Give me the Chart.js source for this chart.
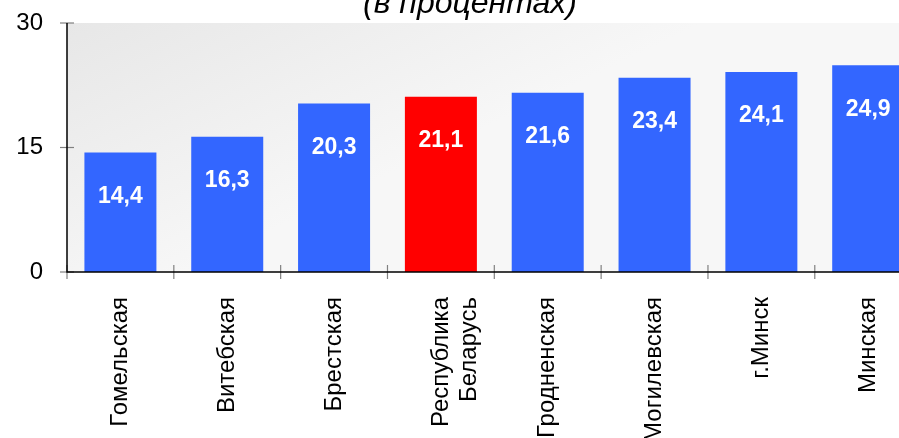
<!DOCTYPE html>
<html>
<head>
<meta charset="utf-8">
<script src="https://cdn.jsdelivr.net/npm/chart.js@4/dist/chart.umd.min.js"></script>
<style>
  html, body { margin: 0; padding: 0; background: #ffffff; overflow: hidden; }
  #wrap { position: relative; width: 922px; height: 438px; }
</style>
</head>
<body>
<div id="wrap"><canvas id="c"></canvas></div>
<script>
const categories = [
  'Гомельская', 'Витебская', 'Брестская', ['Республика', 'Беларусь'],
  'Гродненская', 'Могилевская', 'г.Минск', 'Минская'
];
const values = [14.4, 16.3, 20.3, 21.1, 21.6, 23.4, 24.1, 24.9];
const valueLabels = ['14,4', '16,3', '20,3', '21,1', '21,6', '23,4', '24,1', '24,9'];
const highlightIndex = 3;
const yTicks = [0, 15, 30];
const titleText = '(в процентах)';

const FONT = '"Liberation Sans", Arial, sans-serif';

const decorPlugin = {
  id: 'decor',
  beforeDatasetsDraw(chart) {
    const { ctx, chartArea: a } = chart;
    ctx.save();
    const g = ctx.createLinearGradient(a.left, a.top, a.left + 120, a.bottom);
    g.addColorStop(0, '#e7e7e7');
    g.addColorStop(1, '#f7f7f7');
    ctx.fillStyle = g;
    ctx.fillRect(a.left, a.top, a.right - a.left, a.bottom - a.top);
    ctx.restore();
  },
  afterDatasetsDraw(chart) {
    const { ctx, chartArea: a, scales } = chart;
    const xs = scales.x, ys = scales.y;
    ctx.save();
    // value labels
    const meta = chart.getDatasetMeta(0);
    ctx.fillStyle = '#ffffff';
    ctx.font = 'bold 23px ' + FONT;
    ctx.textAlign = 'center';
    ctx.textBaseline = 'middle';
    meta.data.forEach((bar, i) => {
      ctx.fillText(valueLabels[i], bar.x, bar.y + 44);
    });
    // tick marks (gray, crossing axes)
    ctx.strokeStyle = '#808080';
    ctx.lineWidth = 1.2;
    yTicks.forEach(v => {
      const y = ys.getPixelForValue(v);
      ctx.beginPath();
      ctx.moveTo(a.left - 7, y);
      ctx.lineTo(a.left + 7, y);
      ctx.stroke();
    });
    const n = categories.length;
    const step = (xs.getPixelForValue(1) - xs.getPixelForValue(0));
    for (let i = 0; i <= n; i++) {
      const x = xs.getPixelForValue(0) - step / 2 + i * step;
      ctx.beginPath();
      ctx.moveTo(x, a.bottom - 7);
      ctx.lineTo(x, a.bottom + 7);
      ctx.stroke();
    }
    // axis lines
    ctx.strokeStyle = '#000000';
    ctx.lineWidth = 1.5;
    ctx.beginPath();
    ctx.moveTo(a.left, a.top);
    ctx.lineTo(a.left, a.bottom);
    ctx.lineTo(a.right + 5, a.bottom);
    ctx.stroke();
    // title (partially cut off at the top)
    ctx.fillStyle = '#000000';
    ctx.font = 'italic 32px ' + FONT;
    ctx.textAlign = 'center';
    ctx.textBaseline = 'alphabetic';
    ctx.fillText(titleText, 470, 13);
    ctx.restore();
  }
};

new Chart(document.getElementById('c'), {
  type: 'bar',
  data: {
    labels: categories,
    datasets: [{
      data: values,
      backgroundColor: values.map((v, i) => i === highlightIndex ? '#ff0000' : '#3366ff'),
      borderWidth: 0,
      barPercentage: 0.674,
      categoryPercentage: 1.0
    }]
  },
  options: {
    responsive: true,
    maintainAspectRatio: false,
    animation: false,
    layout: { padding: { top: 23, left: 0, right: 0, bottom: 0 } },
    plugins: { legend: { display: false }, tooltip: { enabled: false }, title: { display: false } },
    scales: {
      x: {
        offset: true,
        grid: { display: false, drawTicks: false },
        border: { display: false },
        ticks: {
          color: '#000000',
          font: { family: FONT, size: 24 },
          minRotation: 90,
          maxRotation: 90,
          autoSkip: false,
          padding: 25
        },
        afterFit(s) { s.height = 166; }
      },
      y: {
        min: 0,
        max: 30,
        afterBuildTicks(s) { s.ticks = yTicks.map(v => ({ value: v })); },
        grid: { display: false, drawTicks: false },
        border: { display: false },
        ticks: {
          color: '#000000',
          font: { family: FONT, size: 24 },
          padding: 24
        },
        afterFit(s) { s.width = 67; s.paddingTop = 0; s.paddingBottom = 0; }
      }
    }
  },
  plugins: [decorPlugin]
});
</script>
</body>
</html>
